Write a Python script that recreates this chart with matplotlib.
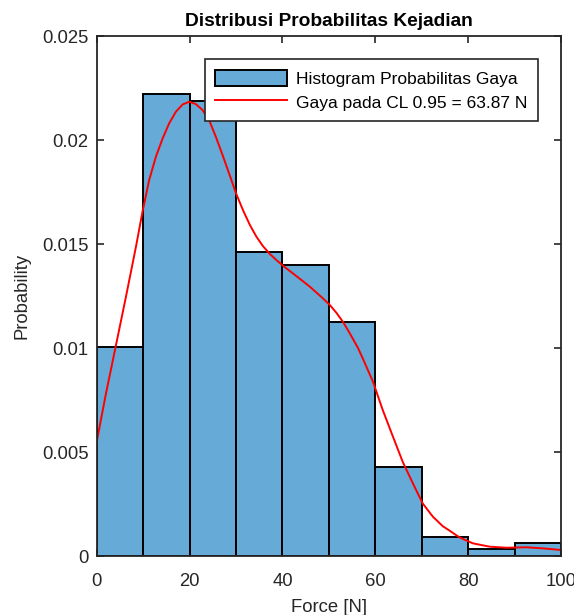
import numpy as np
import matplotlib
matplotlib.use("Agg")
import matplotlib.pyplot as plt
from matplotlib.patches import Patch
from matplotlib.lines import Line2D

plt.rcParams['font.family'] = ['Liberation Sans', 'DejaVu Sans']

# Histogram bins (Force [N]) and normalised probability per bin
bin_edges = [0, 10, 20, 30, 40, 50, 60, 70, 80, 90, 100]
bin_prob = [0.01005, 0.0222, 0.02189, 0.0146, 0.01399, 0.01125,
            0.00428, 0.00093, 0.00032, 0.00064]

# Smoothed density curve
curve_x = [0, 2.0, 4.15, 6.3, 8.45, 9.9, 11.3, 12.75, 14.2, 15.6, 17.05,
           18.5, 19.9, 21.35, 22.8, 24.2, 25.65, 27.1, 28.5, 30.0, 31.5,
           33.0, 34.4, 35.8, 37.3, 38.7, 40.1, 43.0, 45.9, 48.7, 50.2,
           51.6, 53.0, 54.5, 56.3, 57.3, 59.5, 61.6, 63.8, 65.9, 68.1,
           70.2, 72.4, 74.5, 76.0, 78.1, 81.0, 84.6, 88.2, 92.5, 96.0, 100]
curve_y = [0.0055, 0.00782, 0.01014, 0.01247, 0.01487, 0.0166, 0.01808,
           0.0192, 0.02008, 0.0208, 0.02136, 0.02171, 0.02184, 0.02173,
           0.02144, 0.02096, 0.02016, 0.01928, 0.0184, 0.01744, 0.01663,
           0.01591, 0.01535, 0.0149, 0.01452, 0.01423, 0.01396, 0.01346,
           0.01295, 0.01239, 0.01207, 0.0117, 0.01127, 0.01071, 0.00999,
           0.0095, 0.00838, 0.00702, 0.00574, 0.00453, 0.00349, 0.00253,
           0.00189, 0.00144, 0.00122, 0.0009, 0.00061, 0.00045, 0.0004,
           0.00042, 0.00037, 0.00029]

x_ticks = [0, 20, 40, 60, 80, 100]
y_ticks = [0, 0.005, 0.01, 0.015, 0.02, 0.025]
y_tick_labels = ['0', '0.005', '0.01', '0.015', '0.02', '0.025']

bar_color = '#66AAD7'
text_color = '#262626'

fig = plt.figure(figsize=(5.74, 6.15), dpi=100)
ax = fig.add_axes([0.1685, 0.0959, 0.8089, 0.8455])

widths = np.diff(bin_edges)
ax.bar(bin_edges[:-1], bin_prob, width=widths, align='edge',
       color=bar_color, edgecolor='black', linewidth=1.4, zorder=2)
ax.plot(curve_x, curve_y, color='#FF0000', linewidth=1.4, zorder=3,
        solid_joinstyle='round')

ax.set_xlim(0, 100)
ax.set_ylim(0, 0.025)
ax.set_xticks(x_ticks)
ax.set_xticklabels([str(v) for v in x_ticks])
ax.set_yticks(y_ticks)
ax.set_yticklabels(y_tick_labels)

ax.tick_params(axis='both', direction='in', length=5, width=1.2,
               top=True, right=True, labelsize=13.3, colors=text_color)
ax.tick_params(axis='y', pad=6)
ax.tick_params(axis='x', pad=12)
for sp in ax.spines.values():
    sp.set_color(text_color)
    sp.set_linewidth(1.3)
    sp.set_zorder(4)

ax.set_title('Distribusi Probabilitas Kejadian', fontsize=13.8,
             fontweight='bold', color='black', pad=7)
ax.set_xlabel('Force [N]', fontsize=13.3, color=text_color, labelpad=7)
ax.set_ylabel('Probability', fontsize=13.3, color=text_color, labelpad=8)

handles = [Patch(facecolor=bar_color, edgecolor='black', linewidth=1.4),
           Line2D([0], [0], color='#FF0000', linewidth=1.4)]
labels = ['Histogram Probabilitas Gaya', 'Gaya pada CL 0.95 = 63.87 N']
leg = ax.legend(handles, labels, loc='upper right',
                bbox_to_anchor=(0.951, 0.956), fontsize=12.5,
                handlelength=4.1, handleheight=1.08, handletextpad=0.55,
                borderpad=0.62, labelspacing=0.38, fancybox=False,
                framealpha=1, edgecolor=text_color, borderaxespad=0)
leg.get_frame().set_linewidth(1.2)
for t in leg.get_texts():
    t.set_color('black')

fig.savefig('out.png', dpi=100)
